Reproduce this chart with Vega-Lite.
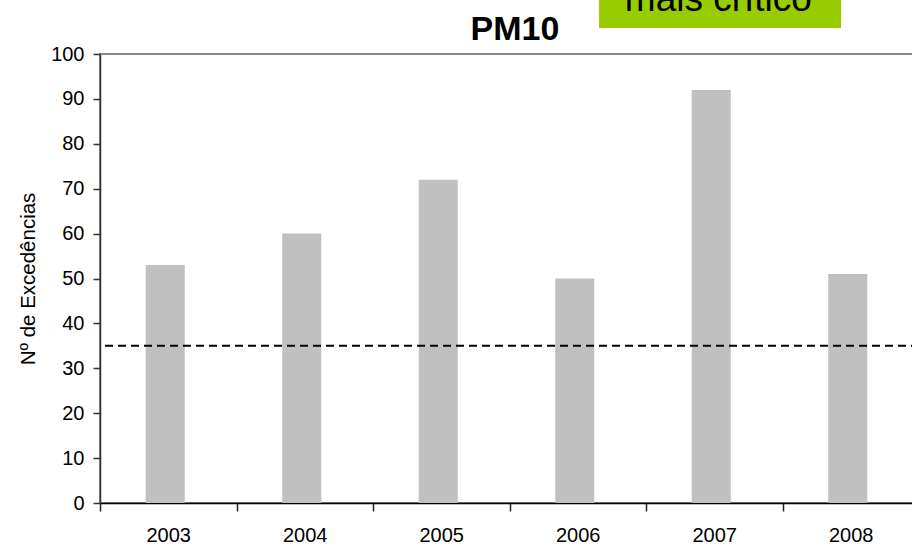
{
  "$schema": "https://vega.github.io/schema/vega-lite/v6.json",
  "autosize": {"type": "none"},
  "padding": {"left": 100, "top": 54, "right": 0, "bottom": 46},
  "width": 819,
  "height": 449,
  "background": "white",
  "config": {
    "font": "Liberation Sans",
    "view": {"stroke": "#8a8a8a", "strokeWidth": 2}
  },
  "datasets": {
    "excedencias": [
      {"ano": "2003", "n": 53},
      {"ano": "2004", "n": 60},
      {"ano": "2005", "n": 72},
      {"ano": "2006", "n": 50},
      {"ano": "2007", "n": 92},
      {"ano": "2008", "n": 51}
    ],
    "limite": [
      {"valor": 35}
    ],
    "nota": [
      {"x0": 3.656, "x1": 5.429, "y0": 105.8, "y1": 118, "xt": 4.53, "yt": 109.6, "texto": "mais crítico"}
    ],
    "titulo": [
      {"xt": 3.04, "yt": 103.1, "texto": "PM10"}
    ]
  },
  "layer": [
    {
      "data": {"name": "excedencias"},
      "mark": {"type": "bar", "color": "#c0c0c0", "xOffset": -3},
      "encoding": {
        "x": {
          "field": "ano",
          "type": "ordinal",
          "scale": {"paddingInner": 0.714, "paddingOuter": 0.357},
          "axis": {
            "title": null,
            "labelAngle": 0,
            "labelFontSize": 20,
            "labelColor": "black",
            "labelPadding": 14,
            "tickSize": 8,
            "tickColor": "#222",
            "tickWidth": 1.5,
            "tickOffset": -68.25,
            "labelOffset": 68.25,
            "domainColor": "black",
            "domainWidth": 1.5
          }
        },
        "y": {
          "field": "n",
          "type": "quantitative",
          "scale": {"domain": [0, 100], "nice": false},
          "axis": {
            "title": "Nº de Excedências",
            "titleFontSize": 20.5,
            "titleFontWeight": "normal",
            "titleColor": "black",
            "titlePadding": 12,
            "values": [0, 10, 20, 30, 40, 50, 60, 70, 80, 90, 100],
            "labelFontSize": 20,
            "labelColor": "black",
            "labelPadding": 9,
            "tickSize": 7,
            "tickColor": "#333",
            "tickWidth": 1.5,
            "domainColor": "#333",
            "domainWidth": 1.5,
            "grid": false
          }
        }
      }
    },
    {
      "data": {"name": "limite"},
      "mark": {"type": "rule", "color": "black", "strokeWidth": 2, "strokeDash": [8, 5]},
      "encoding": {"y": {"field": "valor", "type": "quantitative"}}
    },
    {
      "data": {"name": "nota"},
      "mark": {"type": "rect", "color": "#99cc00"},
      "encoding": {
        "x": {"field": "x0", "type": "quantitative", "scale": {"domain": [0, 6], "nice": false, "zero": false}, "axis": null},
        "x2": {"field": "x1"},
        "y": {"field": "y0", "type": "quantitative"},
        "y2": {"field": "y1"}
      }
    },
    {
      "data": {"name": "nota"},
      "mark": {"type": "text", "fontSize": 37, "color": "black", "baseline": "alphabetic", "align": "center"},
      "encoding": {
        "x": {"field": "xt", "type": "quantitative", "scale": {"domain": [0, 6], "nice": false, "zero": false}, "axis": null},
        "y": {"field": "yt", "type": "quantitative"},
        "text": {"field": "texto"}
      }
    },
    {
      "data": {"name": "titulo"},
      "mark": {"type": "text", "fontSize": 34, "fontWeight": "bold", "color": "black", "baseline": "alphabetic", "align": "center"},
      "encoding": {
        "x": {"field": "xt", "type": "quantitative", "scale": {"domain": [0, 6], "nice": false, "zero": false}, "axis": null},
        "y": {"field": "yt", "type": "quantitative"},
        "text": {"field": "texto"}
      }
    }
  ],
  "resolve": {"scale": {"x": "independent"}}
}
